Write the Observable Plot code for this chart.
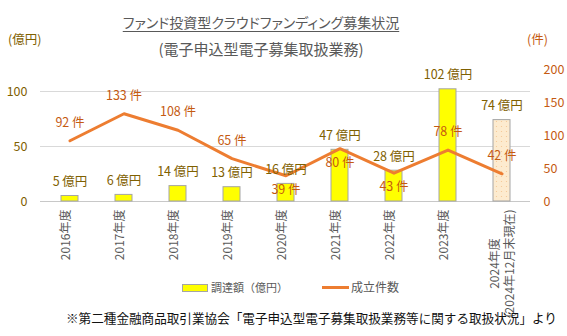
<!DOCTYPE html>
<html>
<head>
<meta charset="utf-8">
<script src="https://cdn.jsdelivr.net/npm/d3@7"></script>
<script src="https://cdn.jsdelivr.net/npm/@observablehq/plot@0.6"></script>
<style>
  html, body { margin: 0; padding: 0; background: #fff; }
  #wrap { position: relative; width: 567px; height: 336px; overflow: hidden;
          font-family: "Noto Sans CJK JP", sans-serif; font-feature-settings: "palt"; }
  #wrap svg { position: absolute; left: 0; top: 0; }
  .abs { position: absolute; white-space: nowrap; line-height: 1; }
</style>
</head>
<body>
<div id="wrap">
  <div class="abs" id="title" style="left:0;width:522px;top:15px;text-align:center;font-size:14px;color:#595959;text-decoration:underline;text-underline-offset:3px;">ファンド投資型クラウドファンディング募集状況</div>
  <div class="abs" id="subtitle" style="left:0;width:522px;top:41px;text-align:center;font-size:15px;color:#595959;">(電子申込型電子募集取扱業務)</div>
  <div class="abs" style="left:8px;top:33px;font-size:12.5px;color:#7F6000;">(億円)</div>
  <div class="abs" style="left:527px;top:33px;font-size:12.5px;color:#C55A11;">(件)</div>
  <div class="abs" style="left:182px;top:284px;width:24px;height:6px;background:#FFFF00;border:1px solid #A5A5A5;"></div>
  <div class="abs" style="left:211px;top:282px;font-size:11px;color:#595959;font-feature-settings:normal;">調達額（億円）</div>
  <div class="abs" style="left:322px;top:286px;width:27px;height:3px;background:#ED7D31;"></div>
  <div class="abs" style="left:351px;top:281px;font-size:12px;color:#595959;">成立件数</div>
  <div class="abs" style="left:66px;top:312px;font-size:12.6px;color:#111;font-feature-settings:normal;">※第二種金融商品取引業協会「電子申込型電子募集取扱業務等に関する取扱状況」より</div>
</div>
<script>
// ---- data ----
const years = ["2016年度", "2017年度", "2018年度", "2019年度", "2020年度", "2021年度", "2022年度", "2023年度", "2024年度\n(2024年12月末現在)"];
const amounts = [5, 6, 14, 13, 16, 47, 28, 102, 74];      // 調達額（億円）
const counts = [92, 133, 108, 65, 39, 80, 43, 78, 42];     // 成立件数
const leftTicks = [0, 50, 100];
const rightTicks = [0, 50, 100, 150, 200];
const partialYear = years[years.length - 1];

// secondary axis: counts 0-200 mapped onto amount axis 0-120
const leftMax = 120, rightMax = 200;
const k = leftMax / rightMax;

const table = years.map((y, i) => ({
  year: y,
  amount: amounts[i],
  count: counts[i],
  countScaled: counts[i] * k,
  partial: y === partialYear
}));

const patternMark = () => {
  const defs = d3.create("svg:defs");
  const p = defs.append("pattern").attr("id", "dots").attr("width", 5).attr("height", 5)
    .attr("patternUnits", "userSpaceOnUse");
  p.append("rect").attr("width", 5).attr("height", 5).attr("fill", "#FDEBCF");
  p.append("circle").attr("cx", 1.5).attr("cy", 1.5).attr("r", 0.6).attr("fill", "#F4C590");
  return defs.node();
};

const plot = Plot.plot({
  width: 567,
  height: 336,
  marginTop: 69,
  marginBottom: 135,
  marginLeft: 40,
  marginRight: 37,
  style: { fontFamily: "'Noto Sans CJK JP', sans-serif", fontSize: "12px", background: "transparent", overflow: "visible" },
  x: { domain: years, paddingInner: 0.69, paddingOuter: 0.345, axis: null },
  y: { domain: [0, leftMax], axis: null },
  marks: [
    patternMark,
    Plot.ruleY(leftTicks.filter(d => d > 0), { stroke: "#D9D9D9", strokeWidth: 1 }),
    Plot.ruleY([0], { stroke: "#C8C8C8", strokeWidth: 1 }),
    Plot.axisY({ ticks: leftTicks, tickSize: 0, tickPadding: 13, color: "#7F6000", fontSize: 12.5 }),
    Plot.axisY({ anchor: "right", ticks: rightTicks.map(d => d * k), tickFormat: d => String(Math.round(d / k)),
                 tickSize: 0, tickPadding: 13, color: "#C55A11", fontSize: 12.5 }),
    Plot.barY(table, { filter: d => !d.partial, x: "year", y: "amount", fill: "#FFFF00", stroke: "#A5A5A5", strokeWidth: 1 }),
    Plot.barY(table, { filter: d => d.partial, x: "year", y: "amount", fill: "url(#dots)", stroke: "#A5A5A5", strokeWidth: 1 }),
    Plot.line(table, { x: "year", y: "countScaled", stroke: "#ED7D31", strokeWidth: 3, strokeLinecap: "round", strokeLinejoin: "round" }),
    // bar value labels
    Plot.text(table, { x: "year", y: "amount", text: d => `${d.amount} 億円`, dy: -14, fill: "#7F6000", fontSize: 12.5 }),
    // count labels: above the line, or below when they would collide with the bar label
    Plot.text(table, { filter: d => Math.abs(d.amount - d.countScaled) >= 10, x: "year", y: "countScaled",
                       text: d => `${d.count} 件`, dy: -18, fill: "#C55A11", fontSize: 12.5 }),
    Plot.text(table, { filter: d => Math.abs(d.amount - d.countScaled) < 10, x: "year", y: "countScaled",
                       text: d => `${d.count} 件`, dy: 14, fill: "#C55A11", fontSize: 12.5 }),
    // category labels (rotated)
    Plot.text(table, { filter: d => !d.partial, x: "year", frameAnchor: "bottom", text: "year", rotate: -90,
                       textAnchor: "end", dy: 8, fill: "#595959", fontSize: 12 }),
    Plot.text(table, { filter: d => d.partial, x: "year", frameAnchor: "bottom", text: "year", rotate: -90,
                       textAnchor: "middle", lineAnchor: "middle", lineHeight: 1.2, dy: 62, fill: "#595959", fontSize: 12 })
  ]
});
document.getElementById("wrap").prepend(plot);
</script>
</body>
</html>
